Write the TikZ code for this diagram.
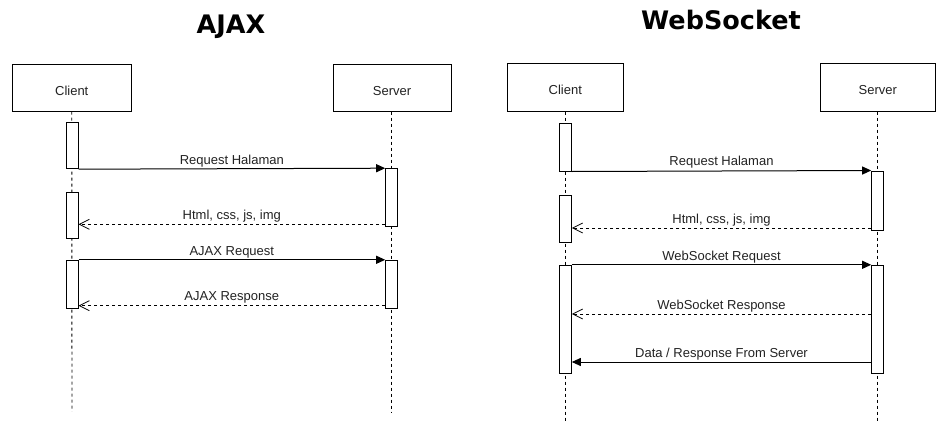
\documentclass[tikz,border=0pt]{standalone}
\usepackage{fontspec}
\setmainfont{Liberation Sans}
\newfontfamily\titlefont{DejaVu Sans}
\usetikzlibrary{arrows.meta}
\definecolor{txt}{HTML}{222222}
\tikzset{
  lifebox/.style={draw, line width=1pt, fill=white, inner sep=0pt, text=txt, font=\fontsize{13}{15}\selectfont},
  actbar/.style={draw, line width=1pt, fill=white, inner sep=0pt, minimum width=12pt},
  lifeline/.style={line width=0.9pt, dash pattern=on 3pt off 3pt},
  msg/.style={line width=1pt, -{Triangle[length=9pt,width=8pt]}},
  reply/.style={line width=1pt, dash pattern=on 3pt off 3pt, -{Straight Barb[length=10pt,width=10pt,line width=0.8pt]}},
  lbl/.style={anchor=base, inner sep=0pt, text=txt, font=\fontsize{13}{15}\selectfont},
  ttl/.style={anchor=base, inner sep=0pt, font=\titlefont\bfseries\fontsize{25.5}{30}\selectfont}
}
\newcommand{\boxtxt}[1]{\raisebox{-3pt}[\height][0pt]{#1}}
\begin{document}
\begin{tikzpicture}[x=1pt,y=-1pt]
\useasboundingbox (0,0) rectangle (951,439);
% ===== AJAX =====
\node[ttl] (t1) at (231,33) {AJAX};
\node[lifebox, minimum width=118.5pt, minimum height=46.5pt] (ac) at (71.75,87.75) {\boxtxt{Client}};
\node[lifebox, minimum width=118pt, minimum height=46.5pt] (as) at (392,87.75) {\boxtxt{Server}};
\coordinate (acend) at (72,411.7);
\coordinate (asend) at (391.7,411.7);
\draw[lifeline] (ac.south) -- (acend);
\draw[lifeline] (as.south -| asend) -- (asend);
\node[actbar, minimum height=46.4pt] (ab1) at (72,145.5) {};
\node[actbar, minimum height=46.3pt] (ab2) at (72,215.15) {};
\node[actbar, minimum height=47.7pt] (ab3) at (72,284.15) {};
\node[actbar, minimum height=58pt] (asb1) at (391.7,197.7) {};
\node[actbar, minimum height=47.7pt] (asb2) at (391.7,284.15) {};
\draw[msg] (ab1.south east) -- (asb1.north west);
\node[lbl] (l1) at (231.8,164.2) {Request Halaman};
\draw[reply] (asb1.west |- 0,224.3) -- (ab2.east |- 0,224.3);
\node[lbl] (l2) at (231.8,219.3) {Html, css, js, img};
\draw[msg] (ab3.north east) -- (asb2.north west);
\node[lbl] (l3) at (231.8,255.3) {AJAX Request};
\draw[reply] (asb2.west |- 0,305.7) -- (ab3.east |- 0,305.7);
\node[lbl] (l4) at (231.8,300.5) {AJAX Response};
% ===== WebSocket =====
\node[ttl] (t2) at (721,29) {WebSocket};
\node[lifebox, minimum width=116pt, minimum height=47.7pt] (wc) at (565.3,87.2) {\boxtxt{Client}};
\node[lifebox, minimum width=115.7pt, minimum height=47.7pt] (ws) at (877.85,87.2) {\boxtxt{Server}};
\coordinate (wcend) at (565.3,421.7);
\coordinate (wsend) at (877.7,421.7);
\draw[lifeline] (wc.south) -- (wcend);
\draw[lifeline] (ws.south -| wsend) -- (wsend);
\node[actbar, minimum height=47.7pt] (wb1) at (565.3,147.15) {};
\node[actbar, minimum height=47.7pt] (wb2) at (565.3,218.85) {};
\node[actbar, minimum height=108.4pt] (wb3) at (565.3,319.5) {};
\node[actbar, minimum height=59.7pt] (wsb1) at (877.7,200.85) {};
\node[actbar, minimum height=108.4pt] (wsb2) at (877.7,319.5) {};
\draw[msg] (wb1.south east) -- (wsb1.north west);
\node[lbl] (m1) at (721.5,165.5) {Request Halaman};
\draw[reply] (wsb1.west |- 0,228) -- (wb2.east |- 0,228);
\node[lbl] (m2) at (721.5,223.3) {Html, css, js, img};
\draw[msg] (wb3.north east) -- (wsb2.north west);
\node[lbl] (m3) at (721.5,260.3) {WebSocket Request};
\draw[reply] (wsb2.west |- 0,314) -- (wb3.east |- 0,314);
\node[lbl] (m4) at (721.5,309) {WebSocket Response};
\draw[msg] (wsb2.west |- 0,362) -- (wb3.east |- 0,362);
\node[lbl] (m5) at (721.5,357) {Data / Response From Server};
\end{tikzpicture}
\end{document}
